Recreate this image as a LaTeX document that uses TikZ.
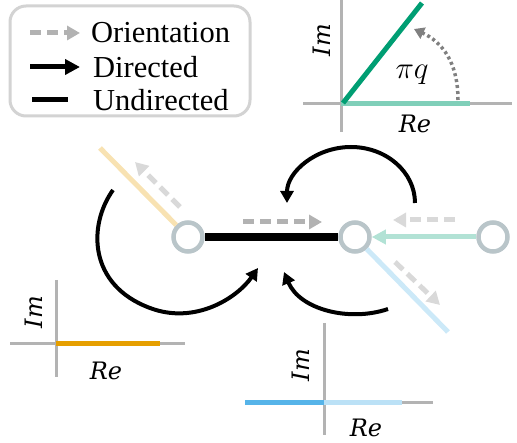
\documentclass[tikz,border=0pt]{standalone}
\usepackage{fontspec}
\setmainfont{Liberation Serif}
\newfontfamily\lblfont{DejaVu Serif}
\usetikzlibrary{arrows.meta}
\definecolor{okorange}{HTML}{E69F00}
\definecolor{okgreen}{HTML}{009E73}
\definecolor{okblue}{HTML}{56B4E9}
\definecolor{ringgray}{HTML}{B9C5C9}
\definecolor{axisgray}{HTML}{B3B3B3}
\definecolor{boxgray}{HTML}{D3D3D3}

\begin{document}
\begin{tikzpicture}[
        x=1pt, y=-1pt,
        vertex/.style={circle, draw=ringgray, line width=4.5pt, fill=white, minimum size=29pt, inner sep=0pt},
        orient/.style={line width=5pt, dash pattern=on 11pt off 6pt, -{Triangle[length=13pt, width=14pt]}},
        curl/.style={line width=4pt, -{Triangle[length=12pt, width=13pt]}},
        axis/.style={axisgray, line width=3pt},
        phase/.style={line width=5pt},
        lbl/.style={font=\lblfont\itshape\fontsize{24}{28}\selectfont, inner sep=0pt},
        legtext/.style={font=\fontsize{30.5}{34}\selectfont, anchor=west, inner sep=0pt}
    ]
        \useasboundingbox (0,0) rectangle (517,443);

        % Legend
        \node[draw=boxgray, line width=3pt, rounded corners=16pt, minimum width=240pt, minimum height=110pt] (legend) at (130,61) {};
        \coordinate (L1a) at (30,33); \coordinate (L1b) at (80,33);
        \coordinate (L2a) at (30,67); \coordinate (L2b) at (80,67);
        \coordinate (L3a) at (32,100); \coordinate (L3b) at (68,100);
        \draw[orient, black!30] (L1a) -- (L1b);
        \draw[curl, line width=5pt, -{Triangle[length=15pt, width=15pt]}] (L2a) -- (L2b);
        \draw[line width=5pt] (L3a) -- (L3b);
        \node[legtext] (tOri) at (91,33) {Orientation};
        \node[legtext] (tDir) at (93,67) {Directed};
        \node[legtext] (tUnd) at (93,100) {Undirected};

        % Phase plot, top
        \draw[axis] (341,0) -- (341,132);
        \draw[axis] (303,104) -- (512,104);
        \draw[phase, okgreen!50] (341,104) -- (470,104);
        \draw[phase, okgreen] (343,103) -- (422,3);
        \draw[black!50, line width=3.5pt, dash pattern=on 3pt off 3pt, -{Triangle[length=10pt, width=12pt]}]
            (458,100) .. controls (458,62) and (442,42) .. (414,29);
        \node[inner sep=0pt, font=\Huge, scale=1.25] (pq) at (412,75) {$\pi q$};
        \node[lbl, rotate=90] (im1) at (322,40) {Im};
        \node[lbl] (re1) at (415,124) {Re};

        % Graph
        \node[vertex] (n1) at (188,237) {};
        \node[vertex] (n2) at (355,237) {};
        \node[vertex] (n3) at (493,237) {};
        \coordinate (ofree) at (100,148);
        \coordinate (bfree) at (448,332);
        \draw[line width=5pt, okorange!30] (n1) -- (ofree);
        \draw[line width=5pt, okblue!30] (n2) -- (bfree);
        \draw[line width=5pt, okgreen!30, -{Triangle[length=14pt, width=14pt]}] (n3) -- (n2);
        \draw[line width=8pt] (n1) -- (n2);

        % Orientations
        \coordinate (d1a) at (180,207); \coordinate (d1b) at (135,162);
        \coordinate (d2a) at (243,222); \coordinate (d2b) at (322,222);
        \coordinate (d3a) at (455,220); \coordinate (d3b) at (393,220);
        \coordinate (d4a) at (395,262); \coordinate (d4b) at (440,305);
        \draw[orient, black!15] (d1a) -- (d1b);
        \draw[orient, black!30] (d2a) -- (d2b);
        \draw[orient, black!15] (d3a) -- (d3b);
        \draw[orient, black!15] (d4a) -- (d4b);

        % Curved arrows
        \coordinate (c1a) at (113,190); \coordinate (c1b) at (258,268);
        \coordinate (c2a) at (415,203);
        \coordinate (c3a) at (388,309); \coordinate (c3b) at (284,272);
        \draw[curl] (c1a) .. controls (88,225) and (88,285) .. (150,308)
                          .. controls (195,325) and (237,298) .. (c1b);
        \draw[curl] (c2a) arc[start angle=0, end angle=-180, x radius=64, y radius=56];
        \draw[curl] (c3a) .. controls (350,322) and (300,310) .. (c3b);

        % Phase plot, bottom left
        \draw[axis] (56,280) -- (56,377);
        \draw[axis] (10,344) -- (185,344);
        \draw[phase, okorange] (56,344) -- (160,344);
        \node[lbl, rotate=90] (im2) at (34,312) {Im};
        \node[lbl] (re2) at (106,371) {Re};

        % Phase plot, bottom right
        \draw[axis] (324,323) -- (324,435);
        \draw[axis] (245,403) -- (433,403);
        \draw[phase, okblue!40] (324,403) -- (402,403);
        \draw[phase, okblue] (245,403) -- (324,403);
        \node[lbl, rotate=90] (im3) at (301,365) {Im};
        \node[lbl] (re3) at (366,428) {Re};

    \end{tikzpicture}
\end{document}
